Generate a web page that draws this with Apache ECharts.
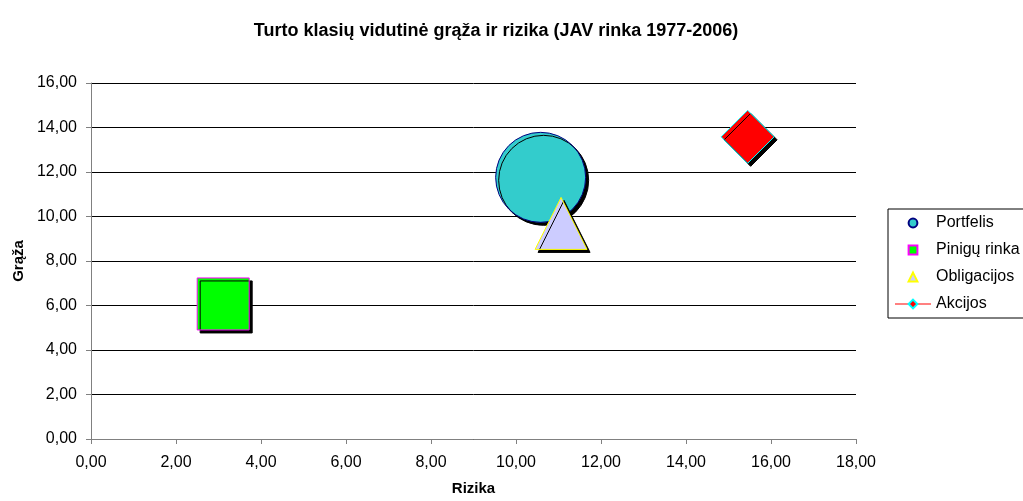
<!DOCTYPE html>
<html><head><meta charset="utf-8">
<script src="https://cdn.jsdelivr.net/npm/echarts@6/dist/echarts.min.js"></script>
<style>html,body{margin:0;padding:0;background:#fff}#c{width:1023px;height:501px}</style>
</head><body><div id="c"></div>
<script>
const seriesNames = ['Portfelis', 'Pinigų rinka', 'Obligacijos', 'Akcijos'];
const riskValues = [10.58, 3.11, 11.06, 15.45];
const returnValues = [11.76, 6.07, 9.69, 13.58];
const xTicks = [0, 2, 4, 6, 8, 10, 12, 14, 16, 18];
const yTicks = [0, 2, 4, 6, 8, 10, 12, 14, 16];

const styles = [
  {symbol: 'circle', size: 90, fill: '#33CCCC', border: '#000080', line: 'rgba(0,0,0,0)'},
  {symbol: 'rect', size: 52, fill: '#00FF00', border: '#FF00FF', line: 'rgba(0,0,0,0)'},
  {symbol: 'triangle', size: 52, fill: '#CCCCFF', border: '#FFFF00', line: 'rgba(0,0,0,0)'},
  {symbol: 'diamond', size: 53, fill: '#FF0000', border: '#00FFFF', line: '#FF8080'}
];
const fmt = v => v.toFixed(2).replace('.', ',');
const font = 'Liberation Sans, Arial, sans-serif';

const series = seriesNames.map((n, i) => {
  const s = styles[i];
  return {
    name: n,
    type: 'line',
    data: [[riskValues[i], returnValues[i]]],
    symbol: s.symbol,
    symbolSize: s.size,
    showSymbol: true,
    clip: false,
    itemStyle: {color: s.fill, borderColor: s.border, borderWidth: 1, opacity: 1,
      shadowColor: '#000', shadowOffsetX: 3, shadowOffsetY: 3, shadowBlur: 0},
    lineStyle: {color: s.line, width: 2},
    emphasis: {disabled: true},
    silent: true,
    z: 2 + i
  };
});

const chart = echarts.init(document.getElementById('c'));
chart.setOption({
  animation: false,
  backgroundColor: '#fff',
  title: {text: 'Turto klasių vidutinė grąža ir rizika (JAV rinka 1977-2006)', left: 491, textAlign: 'center', top: 17,
    textStyle: {fontFamily: font, fontSize: 18, fontWeight: 'bold', color: '#000'}},
  grid: {left: 91, right: 167, top: 83, bottom: 58},
  xAxis: {type: 'value', min: xTicks[0], max: xTicks[xTicks.length-1], interval: 2,
    name: 'Rizika', nameLocation: 'middle', nameGap: 42,
    nameTextStyle: {fontFamily: font, fontSize: 15, fontWeight: 'bold', color: '#000'},
    axisLine: {lineStyle: {color: '#808080'}}, axisTick: {show: true, length: 5, lineStyle: {color: '#808080'}},
    axisLabel: {formatter: fmt, fontFamily: font, fontSize: 16, color: '#000', margin: 16},
    splitLine: {show: false}},
  yAxis: {type: 'value', min: yTicks[0], max: yTicks[yTicks.length-1], interval: 2,
    name: 'Grąža', nameLocation: 'middle', nameGap: 64,
    nameTextStyle: {fontFamily: font, fontSize: 15, fontWeight: 'bold', color: '#000'},
    axisLine: {show: true, lineStyle: {color: '#808080'}}, axisTick: {show: true, length: 5, lineStyle: {color: '#808080'}},
    axisLabel: {formatter: fmt, fontFamily: font, fontSize: 16, color: '#000', margin: 14},
    splitLine: {show: true, lineStyle: {color: '#000', width: 1}}},
  legend: {orient: 'vertical', left: 888, top: 209, borderColor: '#000', borderWidth: 1,
    padding: [5, 40, 5, 6], itemGap: 9, itemWidth: 36, itemHeight: 11,
    itemStyle: {shadowBlur: 0, shadowOffsetX: 0, shadowOffsetY: 0, shadowColor: 'rgba(0,0,0,0)'},
    textStyle: {fontFamily: font, fontSize: 16, color: '#000', lineHeight: 18},
    data: seriesNames.map((n, i) => ({name: n, lineStyle: {color: styles[i].line}}))},
  series: series
});
</script></body></html>
